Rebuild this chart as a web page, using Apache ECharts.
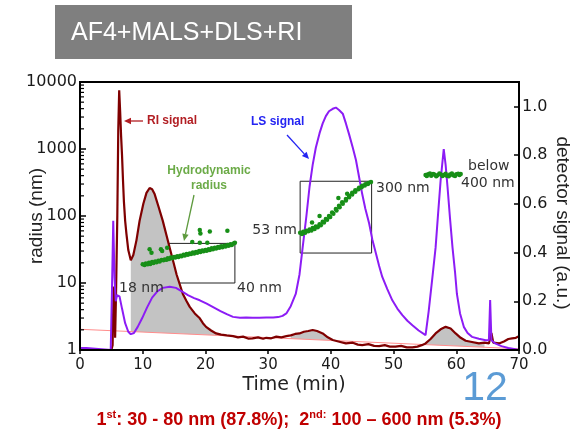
<!DOCTYPE html>
<html>
<head>
<meta charset="utf-8">
<script src="https://cdn.jsdelivr.net/npm/echarts@6/dist/echarts.min.js"></script>
<style>
html, body { margin: 0; padding: 0; background: #fff; }
#main { width: 577px; height: 439px; }
</style>
</head>
<body>
<div id="main"></div>
<script>
// RI signal (detector signal axis), [time min, signal]
var riSignal = [
	[5.0,0.0],[5.2,0.02],[5.35,0.25],[5.5,0.26],[5.6,0.05],[5.75,0.24],[5.95,0.55],[6.1,0.9],[6.25,1.066],[6.4,0.98],
	[6.55,0.88],[6.7,0.8],[6.85,0.7],[7.0,0.61],[7.2,0.53],[7.4,0.478],[7.7,0.41],[8.1,0.368],[8.5,0.39],[9.0,0.45],
	[9.5,0.53],[10.1,0.60],[10.6,0.645],[11.1,0.665],[11.5,0.66],[11.9,0.64],[12.5,0.59],[13.2,0.53],[13.8,0.47],[14.3,0.42],
	[14.9,0.36],[15.4,0.31],[15.9,0.27],[16.4,0.23],[17.0,0.2],[17.5,0.177],[18.3,0.15],[19.1,0.13],[19.6,0.11],[20.1,0.095],
	[20.9,0.08],[21.7,0.068],[22.5,0.063],[23.4,0.06],[24.4,0.057],[25.2,0.052],[26.0,0.055],[26.8,0.047],[27.5,0.048],[28.4,0.052],
	[29.2,0.046],[29.7,0.05],[30.5,0.048],[31.3,0.055],[32.1,0.052],[32.9,0.057],[33.6,0.06],[34.3,0.066],[35.0,0.068],[35.7,0.075],
	[36.4,0.078],[37.1,0.082],[37.8,0.078],[38.7,0.068],[39.5,0.052],[40.3,0.041],[41.2,0.035],[42.4,0.027],[43.5,0.03],[44.3,0.022],
	[45.0,0.02],[46.0,0.024],[46.9,0.017],[47.7,0.016],[48.6,0.02],[49.4,0.014],[50.3,0.014],[51.2,0.017],[52.1,0.011],[53.0,0.011],
	[53.8,0.014],[54.5,0.02],[55.1,0.027],[55.9,0.045],[56.7,0.068],[57.5,0.085],[58.3,0.095],[59.1,0.088],[59.9,0.068],[60.7,0.05],
	[61.5,0.038],[62.5,0.033],[63.6,0.027],[64.5,0.03],[65.2,0.027],[65.6,0.07],[65.9,0.03],[66.8,0.027],[67.6,0.035],[68.3,0.045],
	[68.9,0.048],[69.5,0.05],[70,0.057]
];

// LS signal (detector signal axis)
var lsSignal = [
	[0,0.008],[1.0,0.008],[1.1,0],[4.9,0],[5.1,0.25],[5.3,0.53],[5.5,0.3],[5.7,0.2],[5.9,0.225],[6.3,0.22],
	[6.7,0.17],[7.2,0.11],[7.7,0.075],[8.1,0.065],[8.6,0.07],[9.2,0.095],[9.9,0.13],[10.7,0.175],[11.5,0.215],[12.3,0.24],
	[13.2,0.255],[14.3,0.26],[15.3,0.255],[16.3,0.24],[17.2,0.225],[18.2,0.213],[19.1,0.204],[20.2,0.19],[21.3,0.175],[22.4,0.16],
	[23.4,0.147],[24.4,0.136],[25.5,0.132],[26.5,0.133],[27.5,0.132],[28.6,0.132],[29.7,0.133],[30.8,0.133],[31.6,0.135],[32.3,0.14],
	[32.9,0.15],[33.6,0.18],[34.4,0.23],[35.0,0.31],[35.5,0.42],[36.1,0.55],[36.6,0.67],[37.1,0.76],[37.6,0.83],[38.2,0.89],
	[38.7,0.93],[39.2,0.96],[39.7,0.98],[40.3,0.99],[40.8,0.995],[41.3,0.985],[41.9,0.97],[42.4,0.93],[42.9,0.886],[43.5,0.83],
	[44.0,0.78],[44.5,0.71],[45.0,0.64],[45.5,0.58],[46.1,0.52],[46.6,0.455],[47.2,0.395],[47.7,0.345],[48.2,0.30],[49.0,0.25],
	[49.8,0.204],[50.6,0.17],[51.4,0.143],[52.2,0.12],[53.0,0.102],[54.0,0.08],[55.1,0.061],[55.6,0.16],[56.2,0.3],[56.7,0.42],
	[57.1,0.56],[57.5,0.695],[58.0,0.825],[58.3,0.76],[58.6,0.67],[59.0,0.54],[59.4,0.42],[59.8,0.32],[60.1,0.23],[60.6,0.15],
	[61.2,0.095],[61.8,0.07],[62.5,0.054],[63.6,0.046],[64.7,0.04],[65.2,0.04],[65.4,0.205],[65.6,0.04],[66.2,0.027],[67.2,0.016],
	[68.3,0.008],[69.2,0.004],[70,0.0]
];

// sloping baseline of the RI signal
var riBaseline = [[0,0.085],[70,0.005]];

// time ranges whose RI peaks are shaded grey
var fillRanges = [[8.1,25.2],[33.6,41.2],[54.5,64.5]];

// hydrodynamic radius (nm), radius axis
var rhPeak1 = [
	[10.0,19],[10.5,19.5],[11.0,20],[11.5,20.5],[12.0,21],[12.5,21.5],[13.0,22],[13.5,22.5],[14.0,23.5],[14.5,24],
	[15.0,24.5],[15.5,25],[16.0,25.5],[16.5,26.5],[17.0,27],[17.5,27.5],[18.0,28.5],[18.5,29],[19.0,30],[19.5,30.5],
	[20.0,31],[20.5,32],[21.0,33],[21.5,33.5],[22.0,34.5],[22.5,35.5],[23.0,36],[23.5,37],[24.0,38],[24.5,39],[24.7,40],
	[10.3,18.5],[10.8,19],[11.2,19.2],[11.7,19.9],[12.2,20.4],[12.7,21],[13.3,21.8],[13.8,22.2],[14.2,22.8],[14.7,23.4],
	[15.2,24],[15.7,24.4],[16.2,25],[16.7,25.8],[17.2,26.3],[17.7,27],[18.2,27.6],[18.7,28.4],[19.2,29],[19.7,29.8],
	[20.2,30.2],[20.7,31],[21.2,31.8],[21.7,32.6],[22.2,33.6],[22.7,34.2],[23.2,35],[23.7,36],[24.2,36.8],
	[19.1,62],[19.2,55],[20.7,58.5],[23.5,60],[17.9,41],[19.1,40],[20.3,40],[11.1,31.8],[11.4,28.2],[12.9,31.8],
	[13.1,30],[13.9,33.6]
];
var rhPeak2 = [
	[35.1,56],[35.6,58],[36.1,60],[36.6,63],[37.1,66],[37.6,70],[38.2,75],[38.7,82],[39.2,90],[39.7,100],
	[40.2,113],[40.8,127],[41.3,142],[41.8,160],[42.4,180],[42.9,200],[43.4,222],[43.9,243],[44.5,265],[45.0,283],
	[45.5,298],[46.0,310],[46.4,322],
	[35.4,54],[35.9,56],[36.4,59],[36.9,61],[37.4,64],[37.9,68],[38.4,73],[38.9,80],[39.4,88],[39.9,97],[40.4,108],
	[40.9,121],[41.4,135],[41.9,152],[42.4,170],[42.9,190],[43.4,210],[43.9,230],[44.4,250],[44.9,268],[45.4,285],
	[45.9,300],[38.2,100],[41.2,185],[42.6,215],[37.0,80]
];
var rhPeak3 = [
	[55.1,410],[55.5,420],[56.0,400],[56.5,415],[57.0,405],[57.5,420],[58.0,410],[58.5,400],[59.0,415],[59.5,405],
	[60.0,420],[60.5,410],[60.7,425],[55.3,395],[55.8,432],[56.3,425],[56.8,392],[57.3,430],[57.8,395],[58.3,428],
	[58.8,392],[59.3,430],[59.8,396],[60.3,428]
];

// boxes around the radius ranges [t0, r0, t1, r1]
var rhBoxes = [[10,10,24.7,39],[35.1,28,46.5,330]];

var xTicks = [0, 70, 10];      // min, max, interval
var detTicks = [0, 1.1, 0.2];
var radiusRange = [1, 10000];

// log minor ticks 2..9 of every decade
var minorTickVals = [];
for (var d = radiusRange[0]; d < radiusRange[1]; d *= 10) {
	for (var m = 2; m <= 9; m++) minorTickVals.push([xTicks[0], m * d]);
}

function inFill(t) {
	for (var i = 0; i < fillRanges.length; i++) {
		if (t >= fillRanges[i][0] && t <= fillRanges[i][1]) return true;
	}
	return false;
}

function arrow(x1, y1, x2, y2, color) {
	var a = Math.atan2(y2 - y1, x2 - x1), L = 7, W = 3.2;
	var hx = x2 - L * Math.cos(a), hy = y2 - L * Math.sin(a);
	return [
		{ type: 'line', z: 100, shape: { x1: x1, y1: y1, x2: hx, y2: hy }, style: { stroke: color, lineWidth: 1.3 } },
		{ type: 'polygon', z: 100, shape: { points: [[x2, y2], [hx + W * Math.sin(a), hy - W * Math.cos(a)], [hx - W * Math.sin(a), hy + W * Math.cos(a)]] }, style: { fill: color } }
	];
}

function txt(x, y, text, opt) {
	opt = opt || {};
	return {
		type: 'text', x: x, y: y, rotation: opt.rot || 0, z: 100,
		style: {
			text: text,
			fontSize: opt.size || 14,
			fontFamily: opt.family || 'DejaVu Sans',
			fontWeight: opt.weight || 'normal',
			fill: opt.color || '#333',
			align: opt.align || 'left', textAlign: opt.align || 'left',
			verticalAlign: 'middle', textVerticalAlign: 'middle',
			rich: opt.rich
		}
	};
}

var riFill = riSignal.map(function(p) {
	return inFill(p[0]) ? p : [p[0], '-'];
});

var myChart = echarts.init(document.getElementById('main'));

var axisFont = { fontFamily: 'DejaVu Sans', color: '#1a1a1a' };

var option = {
	animation: false,
	grid: {
		left: 80, right: 58, top: 82, bottom: 89,
		show: true, borderColor: '#000', borderWidth: 2,
		outerBoundsMode: 'none'
	},
	xAxis: {
		type: 'value', min: xTicks[0], max: xTicks[1], interval: xTicks[2], z: 10,
		axisLine: { lineStyle: { color: '#000', width: 2 } },
		axisTick: { show: true, inside: false, length: 4, lineStyle: { color: '#000', width: 1.5 } },
		axisLabel: Object.assign({ fontSize: 15, margin: 8 }, axisFont),
		splitLine: { show: false }
	},
	yAxis: [{
		type: 'log', logBase: 10, min: radiusRange[0], max: radiusRange[1], position: 'left', z: 10,
		axisLine: { show: true, lineStyle: { color: '#000', width: 2 } },
		axisTick: { show: true, inside: true, length: 6, lineStyle: { color: '#000', width: 1.5 } },
		axisLabel: Object.assign({
			fontSize: 16, margin: 3,
			formatter: function(v) { return String(Math.round(v)); }
		}, axisFont),
		splitLine: { show: false }
	}, {
		type: 'value', min: detTicks[0], max: detTicks[1], interval: detTicks[2], position: 'right', z: 10,
		axisLine: { show: true, lineStyle: { color: '#000', width: 2 } },
		axisTick: { show: true, inside: true, length: 5, lineStyle: { color: '#000', width: 1.5 } },
		axisLabel: Object.assign({
			fontSize: 16, margin: 3,
			formatter: function(v) { return v > 1.05 ? '' : v.toFixed(1); }
		}, axisFont),
		splitLine: { show: false }
	}],
	series: [{
		name: 'RI fill', type: 'line', yAxisIndex: 1, data: riFill, z: 1,
		showSymbol: false, symbol: 'none', connectNulls: false,
		lineStyle: { width: 0 },
		areaStyle: { color: '#c3c3c3', opacity: 1, origin: 'start' }
	}, {
		name: 'below baseline', type: 'line', yAxisIndex: 1, data: riBaseline, z: 1,
		symbol: 'none', lineStyle: { width: 0 },
		areaStyle: { color: '#fff', opacity: 1, origin: 'start' }
	}, {
		name: 'baseline', type: 'line', yAxisIndex: 1, data: riBaseline, z: 2,
		symbol: 'none', lineStyle: { color: '#ff8c8c', width: 1 }
	}, {
		name: 'RI signal', type: 'line', yAxisIndex: 1, data: riSignal, z: 3,
		symbol: 'none', lineStyle: { color: '#7f0000', width: 2.2 }
	}, {
		name: 'LS signal', type: 'line', yAxisIndex: 1, data: lsSignal, z: 4,
		symbol: 'none', lineStyle: { color: '#8c1cf5', width: 2 }
	}, {
		name: 'Rh', type: 'scatter', yAxisIndex: 0, z: 6,
		data: rhPeak1.concat(rhPeak2, rhPeak3),
		symbolSize: 4.5, itemStyle: { color: '#178f17', opacity: 1 },
		markArea: {
			silent: true,
			itemStyle: { color: 'rgba(0,0,0,0)', borderColor: '#222', borderWidth: 1 },
			data: rhBoxes.map(function(b) {
				return [{ coord: [b[0], b[1]] }, { coord: [b[2], b[3]] }];
			})
		}
	}, {
		name: 'minor ticks', type: 'custom', yAxisIndex: 0, z: 12, silent: true, clip: false,
		data: minorTickVals,
		renderItem: function(params, api) {
			var p = api.coord([api.value(0), api.value(1)]);
			return { type: 'line', shape: { x1: p[0], y1: p[1], x2: p[0] + 4, y2: p[1] }, style: { stroke: '#000', lineWidth: 1.2 } };
		}
	}],
	graphic: [
		{ type: 'rect', shape: { x: 55, y: 5, width: 297, height: 54 }, style: { fill: '#7f7f7f' } },
		txt(71, 33, 'AF4+MALS+DLS+RI', { size: 25, family: 'Liberation Sans', color: '#fff' }),
		txt(147, 121, 'RI signal', { size: 12, family: 'Liberation Sans', weight: 'bold', color: '#b21e23' }),
		txt(251, 122, 'LS signal', { size: 12, family: 'Liberation Sans', weight: 'bold', color: '#2424f2' }),
		txt(209, 171, 'Hydrodynamic', { size: 12, family: 'Liberation Sans', weight: 'bold', color: '#6cab48', align: 'center' }),
		txt(209, 186, 'radius', { size: 12, family: 'Liberation Sans', weight: 'bold', color: '#6cab48', align: 'center' }),
		txt(119, 288, '18 nm'),
		txt(237, 288, '40 nm'),
		txt(297, 230, '53 nm', { align: 'right' }),
		txt(376, 188, '300 nm'),
		txt(468, 166, 'below'),
		txt(461, 183, '400 nm'),
		txt(37, 216, 'radius (nm)', { size: 19, family: 'Liberation Sans', color: '#222', align: 'center', rot: Math.PI / 2 }),
		txt(562, 223, 'detector signal (a.u.)', { size: 19, family: 'Liberation Sans', color: '#222', align: 'center', rot: -Math.PI / 2 }),
		txt(294, 385, 'Time (min)', { size: 19, color: '#222', align: 'center' }),
		txt(485, 389, '12', { size: 41, family: 'Liberation Sans', color: '#5b9bd5', align: 'center' }),
		txt(299, 420, '{a|1}{s|st}{a|: 30 - 80 nm (87.8%);  2}{s|nd:}{a| 100 \u2013 600 nm (5.3%)}', {
			align: 'center',
			rich: {
				a: { fontSize: 18, fontWeight: 'bold', fontFamily: 'Liberation Sans', fill: '#c00000', lineHeight: 21 },
				s: { fontSize: 11, fontWeight: 'bold', fontFamily: 'Liberation Sans', fill: '#c00000', verticalAlign: 'top', lineHeight: 21, padding: [0, 0, 6, 0] }
			}
		})
	].concat(
		arrow(143, 121, 124, 121, '#b21e23'),
		arrow(287, 135, 309, 159, '#2424f2'),
		arrow(194, 195, 184, 241, '#5e9a3e')
	)
};

myChart.setOption(option);
</script>
</body>
</html>
